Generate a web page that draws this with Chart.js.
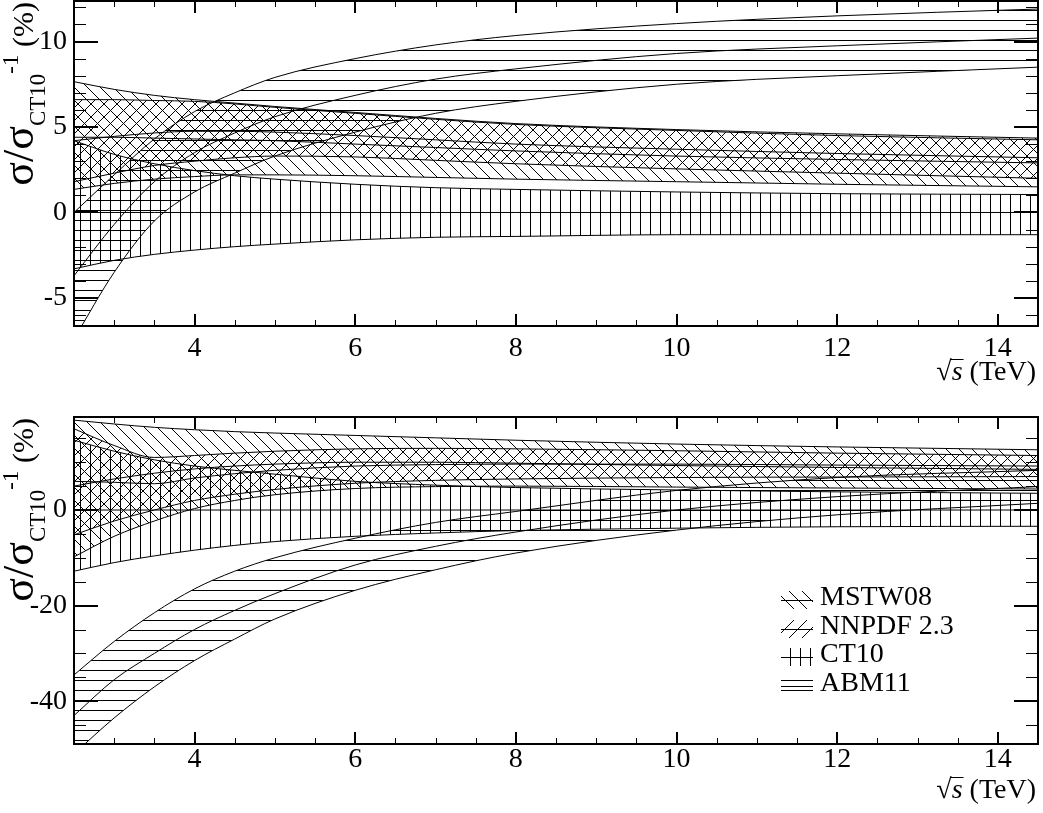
<!DOCTYPE html>
<html lang="en">
<head>
<meta charset="UTF-8">
<title>Cross section ratio to CT10 vs sqrt(s)</title>
<script src="https://cdn.jsdelivr.net/npm/chart.js"></script>
<style>
  body { margin: 0; background: #fff; }
  .panel { position: absolute; left: 0; }
  #topPanel { top: 0; }
  #bottomPanel { top: 400px; }
</style>
</head>
<body>
<canvas id="topPanel" class="panel" width="1043" height="400"></canvas>
<canvas id="bottomPanel" class="panel" width="1043" height="413"></canvas>
<script>
// sqrt(s) in TeV, same grid for every band
const sqrtS = [2.5, 3, 3.5, 4, 4.5, 5, 6, 7, 8, 10, 12, 14.5];

// upper panel, sigma/sigma_CT10 - 1 in %
const mstwTopUp  = [7.65, 7.2, 6.85, 6.6, 6.4, 6.2, 5.85, 5.5, 5.2, 4.85, 4.6, 4.35];
const mstwTopMid = [4.4, 4.4, 4.35, 4.3, 4.25, 4.2, 4.0, 3.8, 3.6, 3.3, 3.1, 2.9];
const mstwTopLo  = [1.35, 1.7, 1.95, 2.1, 2.2, 2.2, 2.15, 2.05, 1.95, 1.8, 1.65, 1.5];
const nnpdfTopUp  = [6.6, 6.6, 6.55, 6.5, 6.35, 6.15, 5.8, 5.45, 5.15, 4.8, 4.5, 4.25];
const nnpdfTopMid = [4.2, 4.45, 4.65, 4.75, 4.75, 4.7, 4.5, 4.25, 4.0, 3.7, 3.45, 3.2];
const nnpdfTopLo  = [1.8, 2.3, 2.75, 3.0, 3.2, 3.3, 3.25, 3.05, 2.85, 2.55, 2.3, 2.0];
const ct10TopUp  = [4.2, 3.4, 2.85, 2.45, 2.15, 1.95, 1.65, 1.45, 1.35, 1.2, 1.1, 1.05];
const ct10TopMid = [0, 0, 0, 0, 0, 0, 0, 0, 0, 0, 0, 0];
const ct10TopLo  = [-3.3, -2.8, -2.45, -2.2, -2.0, -1.85, -1.6, -1.45, -1.4, -1.3, -1.3, -1.3];
const abmTopUp  = [0.0, 2.2, 4.3, 5.9, 7.0, 7.9, 9.0, 9.8, 10.35, 11.05, 11.5, 11.9];
const abmTopMid = [-3.7, -0.7, 1.8, 3.5, 4.65, 5.6, 6.85, 7.8, 8.4, 9.3, 9.75, 10.2];
const abmTopLo  = [-7.4, -3.5, -0.5, 1.2, 2.3, 3.3, 4.7, 5.8, 6.5, 7.5, 8.0, 8.5];

// lower panel
const mstwBotUp  = [18.8, 18.0, 17.3, 16.8, 16.4, 16.1, 15.6, 15.1, 14.6, 13.8, 13.2, 12.6];
const mstwBotMid = [5.0, 6.5, 7.7, 8.6, 9.2, 9.6, 10.0, 10.0, 9.8, 9.3, 8.9, 8.5];
const mstwBotLo  = [-9.8, -5.5, -2.3, 0.3, 2.0, 3.2, 4.5, 4.9, 5.0, 4.8, 4.6, 4.4];
const nnpdfBotUp  = [17.0, 13.5, 11.0, 11.4, 11.9, 12.3, 12.8, 12.9, 12.8, 12.4, 11.9, 11.4];
const nnpdfBotMid = [6.0, 5.8, 5.5, 6.7, 7.6, 8.3, 9.2, 9.5, 9.6, 9.6, 9.4, 9.2];
const nnpdfBotLo  = [-5.2, -2.3, 0.0, 2.0, 3.3, 4.3, 5.6, 6.2, 6.5, 6.8, 6.9, 7.0];
const ct10BotUp  = [14.6, 12.3, 10.5, 9.2, 8.3, 7.5, 6.0, 5.2, 4.7, 4.2, 3.8, 3.5];
const ct10BotMid = [0, 0, 0, 0, 0, 0, 0, 0, 0, 0, 0, 0];
const ct10BotLo  = [-12.8, -11.0, -9.6, -8.4, -7.4, -6.6, -5.5, -4.8, -4.3, -3.8, -3.5, -3.4];
const abmBotUp  = [-34.5, -27.5, -21.5, -16.5, -12.8, -10.0, -5.9, -2.6, -0.3, 4.1, 6.8, 8.3];
const abmBotMid = [-43, -35.5, -30, -25, -21, -17.5, -11.5, -7.6, -4.6, 0.0, 2.8, 4.9];
const abmBotLo  = [-51, -43.5, -37, -31.5, -27.0, -22.8, -16.8, -12.5, -9.0, -4.2, -1.0, 1.4];

const xTicks = [4, 6, 8, 10, 12, 14];
const yTicksTop = [-5, 0, 5, 10];
const yTicksBottom = [-40, -20, 0];
const legendLabels = ['MSTW08', 'NNPDF 2.3', 'CT10', 'ABM11'];

const serif = "'Liberation Serif', 'Times New Roman', serif";

// hatch tiles: 'back' = \\\, 'fwd' = ///, 'v' = |||, 'h' = ===
function makeHatch(ctx, kind) {
  const s = (kind === 'v' || kind === 'h') ? 10 : 13;
  const tile = document.createElement('canvas');
  tile.width = s; tile.height = s;
  const g = tile.getContext('2d');
  g.strokeStyle = '#000';
  g.lineWidth = 1;
  g.beginPath();
  if (kind === 'v') { g.moveTo(0.5, 0); g.lineTo(0.5, s); }
  if (kind === 'h') { g.moveTo(0, 0.5); g.lineTo(s, 0.5); }
  if (kind === 'back') {
    g.moveTo(0, 0); g.lineTo(s, s);
    g.moveTo(-1, s - 1); g.lineTo(1, s + 1);
    g.moveTo(s - 1, -1); g.lineTo(s + 1, 1);
  }
  if (kind === 'fwd') {
    g.moveTo(0, s); g.lineTo(s, 0);
    g.moveTo(-1, 1); g.lineTo(1, -1);
    g.moveTo(s - 1, s + 1); g.lineTo(s + 1, s - 1);
  }
  g.stroke();
  return ctx.createPattern(tile, 'repeat');
}

function band(label, up, mid, lo, pattern) {
  const pts = arr => sqrtS.map((x, i) => ({ x, y: arr[i] }));
  const line = {
    borderColor: '#000', borderWidth: 1, pointRadius: 0,
    cubicInterpolationMode: 'monotone'
  };
  return [
    { ...line, label: label, data: pts(up), fill: '+1', backgroundColor: pattern },
    { ...line, label: label + ' low', data: pts(lo), fill: false },
    { ...line, label: label + ' central', data: pts(mid), fill: false }
  ];
}

function drawYTitle(ctx, a, o) {
  const parts = [
    { text: 'σ/σ', size: o.greek, shift: 0 },
    { text: 'CT10', size: o.sub, shift: o.subShift },
    { text: '-1', size: o.sub, shift: -o.supShift },
    { text: ' (%)', size: o.main, shift: 0 }
  ];
  ctx.save();
  ctx.translate(o.baseX, a.top + o.endOffset);
  ctx.rotate(-Math.PI / 2);
  ctx.fillStyle = '#000';
  ctx.textAlign = 'left';
  ctx.textBaseline = 'alphabetic';
  const widths = parts.map(p => { ctx.font = p.size + 'px ' + serif; return ctx.measureText(p.text).width; });
  let u = -widths.reduce((s, w) => s + w, 0);
  parts.forEach((p, i) => {
    ctx.font = p.size + 'px ' + serif;
    ctx.fillText(p.text, u, p.shift);
    u += widths[i];
  });
  ctx.restore();
}

function drawXTitle(ctx, a, o) {
  const plain = o.size + 'px ' + serif;
  const ital = 'italic ' + o.size + 'px ' + serif;
  ctx.save();
  ctx.fillStyle = '#000';
  ctx.strokeStyle = '#000';
  ctx.textAlign = 'left';
  ctx.textBaseline = 'alphabetic';
  ctx.font = plain;
  const wTail = ctx.measureText(' (TeV)').width;
  const wRad = ctx.measureText('√').width;
  ctx.font = ital;
  const wS = ctx.measureText('s').width;
  const x0 = o.right - wTail - wS - wRad;
  const yb = a.bottom + o.baseline;
  ctx.font = plain;
  ctx.fillText('√', x0, yb);
  ctx.font = ital;
  ctx.fillText('s', x0 + wRad, yb);
  ctx.font = plain;
  ctx.fillText(' (TeV)', x0 + wRad + wS, yb);
  ctx.lineWidth = 1;
  ctx.beginPath();
  const yBar = Math.round(yb - o.size * 0.76) + 0.5;
  ctx.moveTo(x0 + wRad - 1, yBar);
  ctx.lineTo(x0 + wRad + wS + 1, yBar);
  ctx.stroke();
  ctx.restore();
}

function drawLegend(ctx, a, o) {
  ctx.save();
  ctx.textAlign = 'left';
  ctx.textBaseline = 'alphabetic';
  ctx.font = o.size + 'px ' + serif;
  legendLabels.forEach((label, i) => {
    const base = a.top + o.firstBase + i * o.rowGap;
    const cy = Math.round(base - 5);
    ctx.save();
    ctx.beginPath();
    ctx.rect(o.symX, cy - 9, o.symW, 18);
    ctx.clip();
    ctx.fillStyle = o.patterns[i];
    ctx.fillRect(o.symX, cy - 9, o.symW, 18);
    ctx.restore();
    ctx.strokeStyle = '#000';
    ctx.lineWidth = 1;
    ctx.beginPath();
    ctx.moveTo(o.symX, cy + 0.5);
    ctx.lineTo(o.symX + o.symW, cy + 0.5);
    ctx.stroke();
    ctx.fillStyle = '#000';
    ctx.fillText(label, o.textX, base);
  });
  ctx.restore();
}

// frame, inward ticks on all four sides, titles and legend
const hepFrame = {
  id: 'hepFrame',
  afterDraw(chart, args, o) {
    const { ctx, chartArea: a, scales: { x, y } } = chart;
    const steps = (scale, step) => {
      const out = [];
      for (let k = Math.ceil(scale.min / step - 1e-9); k * step <= scale.max + 1e-9; k++) out.push(k * step);
      return out;
    };
    const isMajor = (v, m) => Math.abs(v / m - Math.round(v / m)) < 1e-6;
    ctx.save();
    ctx.strokeStyle = '#000';
    steps(x, o.xMinor).forEach(v => {
      const major = isMajor(v, o.xMajor);
      const len = major ? o.xMajorLen : o.xMinorLen;
      ctx.lineWidth = major ? 2 : 1;
      const px = major ? Math.round(x.getPixelForValue(v)) : Math.round(x.getPixelForValue(v)) + 0.5;
      ctx.beginPath();
      ctx.moveTo(px, a.bottom); ctx.lineTo(px, a.bottom - len);
      ctx.moveTo(px, a.top); ctx.lineTo(px, a.top + len);
      ctx.stroke();
    });
    steps(y, o.yMinor).forEach(v => {
      const major = isMajor(v, o.yMajor);
      const len = major ? o.yMajorLen : o.yMinorLen;
      ctx.lineWidth = major ? 2 : 1;
      const py = major ? Math.round(y.getPixelForValue(v)) : Math.round(y.getPixelForValue(v)) + 0.5;
      ctx.beginPath();
      ctx.moveTo(a.left, py); ctx.lineTo(a.left + len, py);
      ctx.moveTo(a.right, py); ctx.lineTo(a.right - len, py);
      ctx.stroke();
    });
    ctx.lineWidth = 2;
    ctx.strokeRect(a.left, a.top, a.right - a.left, a.bottom - a.top);
    ctx.restore();

    drawYTitle(ctx, a, o.yTitle);
    drawXTitle(ctx, a, o.xTitle);
    if (o.legend) drawLegend(ctx, a, o.legend);
  }
};

function makePanel(canvasId, bands, yMin, yMax, yTicks, yMajor, yMinor, padTop, xAxisHeight, xLabelPad, legend) {
  const canvas = document.getElementById(canvasId);
  const ctx = canvas.getContext('2d');
  const pats = {
    back: makeHatch(ctx, 'back'), fwd: makeHatch(ctx, 'fwd'),
    v: makeHatch(ctx, 'v'), h: makeHatch(ctx, 'h')
  };
  const datasets = [
    ...band('MSTW08', bands.mstw[0], bands.mstw[1], bands.mstw[2], pats.back),
    ...band('NNPDF 2.3', bands.nnpdf[0], bands.nnpdf[1], bands.nnpdf[2], pats.fwd),
    ...band('CT10', bands.ct10[0], bands.ct10[1], bands.ct10[2], pats.v),
    ...band('ABM11', bands.abm[0], bands.abm[1], bands.abm[2], pats.h)
  ];
  const tickFont = { family: serif, size: 28 };
  return new Chart(ctx, {
    type: 'line',
    data: { datasets },
    options: {
      responsive: false,
      animation: false,
      layout: { padding: { top: padTop, right: 5, left: 0, bottom: 0 } },
      plugins: {
        legend: { display: false },
        tooltip: { enabled: false },
        hepFrame: {
          xMajor: 2, xMinor: 0.5, xMajorLen: 12, xMinorLen: 6,
          yMajor, yMinor, yMajorLen: 24, yMinorLen: 12,
          yTitle: { baseX: 33, endOffset: 1, greek: 44, sub: 23, main: 30, subShift: 12, supShift: 15 },
          xTitle: { size: 28, right: 1036, baseline: 54 },
          legend: legend ? { ...legend, patterns: [pats.back, pats.fwd, pats.v, pats.h] } : null
        }
      },
      scales: {
        x: {
          type: 'linear', min: 2.5, max: 14.5,
          afterBuildTicks: s => { s.ticks = xTicks.map(v => ({ value: v })); },
          afterFit: s => { s.height = xAxisHeight; s.paddingLeft = 0; s.paddingRight = 0; },
          grid: { display: false, drawTicks: false },
          border: { display: false },
          ticks: { font: tickFont, color: '#000', padding: xLabelPad, maxRotation: 0, autoSkip: false }
        },
        y: {
          type: 'linear', min: yMin, max: yMax,
          afterBuildTicks: s => { s.ticks = yTicks.map(v => ({ value: v })); },
          afterFit: s => { s.width = 74; s.paddingTop = 0; s.paddingBottom = 0; },
          grid: { display: false, drawTicks: false },
          border: { display: false },
          ticks: { font: tickFont, color: '#000', padding: 7, autoSkip: false }
        }
      }
    },
    plugins: [hepFrame]
  });
}

makePanel('topPanel', {
  mstw: [mstwTopUp, mstwTopMid, mstwTopLo],
  nnpdf: [nnpdfTopUp, nnpdfTopMid, nnpdfTopLo],
  ct10: [ct10TopUp, ct10TopMid, ct10TopLo],
  abm: [abmTopUp, abmTopMid, abmTopLo]
}, -6.64, 12.37, yTicksTop, 5, 1, 1, 74, 6, null);

makePanel('bottomPanel', {
  mstw: [mstwBotUp, mstwBotMid, mstwBotLo],
  nnpdf: [nnpdfBotUp, nnpdfBotMid, nnpdfBotLo],
  ct10: [ct10BotUp, ct10BotMid, ct10BotLo],
  abm: [abmBotUp, abmBotMid, abmBotLo]
}, -48.95, 19.46, yTicksBottom, 20, 5, 17, 69, -1,
  { symX: 781, symW: 32, textX: 820, firstBase: 188, rowGap: 28.7, size: 28 });
</script>
</body>
</html>
